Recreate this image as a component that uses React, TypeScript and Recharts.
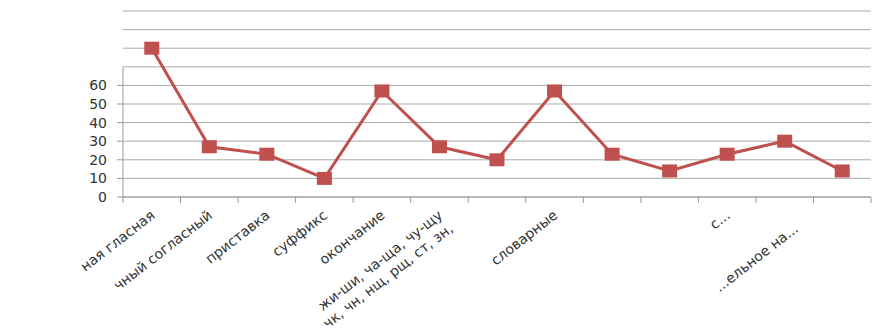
import React from 'react';
import { LineChart, Line, XAxis, YAxis, CartesianGrid, ReferenceLine } from 'recharts';

// categories as they are readable on the picture (rest of the labels is cut off)
const categories = [
  'ная гласная',
  'чный согласный',
  'приставка',
  'суффикс',
  'окончание',
  'жи-ши, ча-ща, чу-щу\nчк, чн, нщ, рщ, ст, зн,',
  '',
  'словарные',
  '',
  '',
  'с...',
  '\n\n...ельное на...',
  '',
];
const values = [80, 27, 23, 10, 57, 27, 20, 57, 23, 14, 23, 30, 14];
const yTicks = [0, 10, 20, 30, 40, 50, 60, 70, 80, 90, 100];
const yLabelMax = 60;

const data = categories.map((c, i) => ({ i, v: values[i] }));

const W = 876;
const H = 324;
const M = { top: 3, right: 13, bottom: 0, left: 0 };
const Y_W = 115;
const HALF = (W - M.left - M.right - Y_W) / categories.length / 2;
const FONT = '"DejaVu Sans", sans-serif';

const ValueTick = (props: any) => {
  const { x, y, payload } = props;
  if (payload.value > yLabelMax) return <g />;
  return (
    <g>
      <line x1={x + 10} x2={x + 16} y1={y} y2={y} stroke="#999" />
      <text x={x} y={y} dy={5} textAnchor="end" fontSize={14} fill="#333" fontFamily={FONT}>
        {payload.value}
      </text>
    </g>
  );
};

const CategoryTick = (props: any) => {
  const { x, y, payload, index } = props;
  const lines = categories[payload.value].split('\n');
  const ax = x + 4;
  const ay = y + 20;
  return (
    <g>
      <line x1={x - HALF} x2={x - HALF} y1={y} y2={y + 6} stroke="#999" />
      {index === categories.length - 1 && (
        <line x1={x + HALF} x2={x + HALF} y1={y} y2={y + 6} stroke="#999" />
      )}
      <text
        transform={`rotate(-38, ${ax}, ${ay})`}
        x={ax}
        y={ay}
        textAnchor="end"
        fontSize={14}
        fill="#333"
        fontFamily={FONT}
      >
        {lines.map((l, k) => (
          <tspan key={k} x={ax} dy={k === 0 ? 0 : 17}>
            {l}
          </tspan>
        ))}
      </text>
    </g>
  );
};

const SquareDot = (props: any) => {
  const { cx, cy, index } = props;
  return <rect key={index} x={cx - 7.5} y={cy - 6.5} width={15} height={13} fill="#c0504d" />;
};

export default function App() {
  return (
    <div style={{ width: W, height: H }}>
      <LineChart width={W} height={H} data={data} margin={M}>
        <CartesianGrid vertical={false} stroke="#aaa" />
        <XAxis
          dataKey="i"
          type="category"
          scale="band"
          height={H - M.top - 186}
          stroke="#999"
          tickLine={false}
          tickSize={0}
          tickMargin={0}
          tick={<CategoryTick />}
          interval={0}
        />
        <YAxis
          width={Y_W}
          domain={[0, 100]}
          ticks={yTicks}
          axisLine={false}
          tickLine={false}
          tickMargin={10}
          tick={<ValueTick />}
          interval={0}
        />
        <ReferenceLine
          segment={[
            { x: 0, y: 0 },
            { x: 0, y: 70 },
          ]}
          position="start"
          stroke="#999"
        />
        <Line
          dataKey="v"
          stroke="#c0504d"
          strokeWidth={3}
          dot={<SquareDot />}
          isAnimationActive={false}
        />
      </LineChart>
    </div>
  );
}
